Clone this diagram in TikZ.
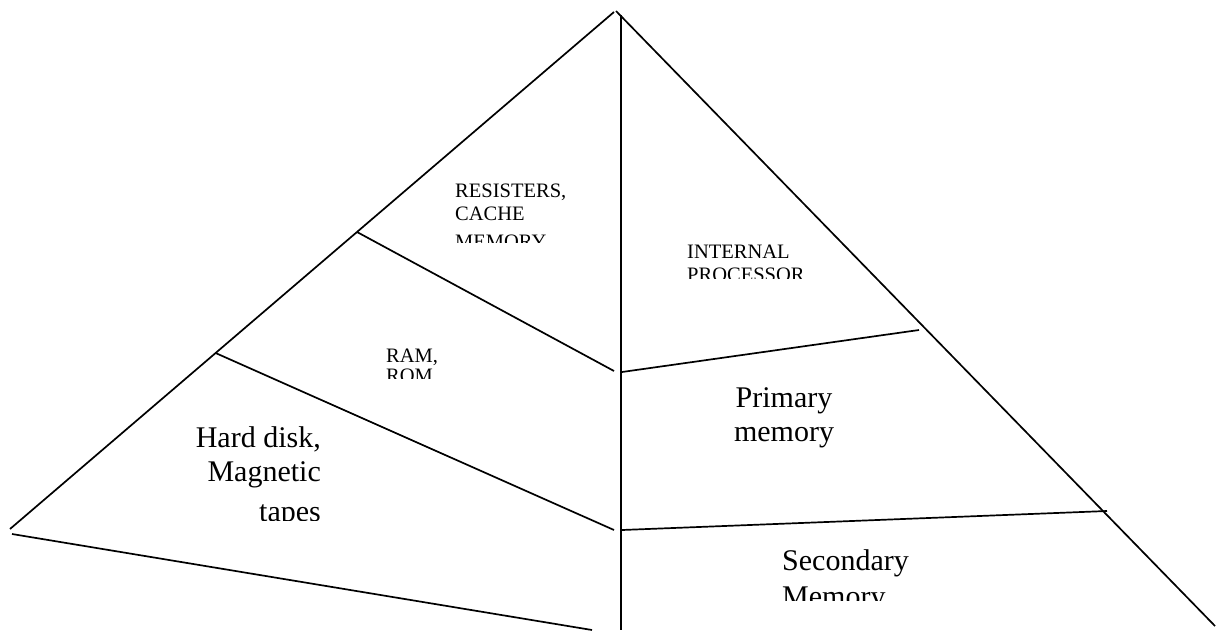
\documentclass[tikz,border=0pt]{standalone}
\usepackage{fontspec}
\setmainfont{Liberation Serif}
\usetikzlibrary{calc}
\begin{document}
\begin{tikzpicture}[x=1pt,y=-1pt,
  edge/.style={line width=1.7pt, black},
  small/.style={inner sep=0pt, font=\fontsize{20.5}{23}\selectfont},
  large/.style={inner sep=0pt, font=\fontsize{30}{34}\selectfont}]
\useasboundingbox (0,0) rectangle (1218,630);

% outline of the pyramid
\coordinate (apexL) at (614,12);
\coordinate (apexR) at (616,11);
\coordinate (baseL) at (10,529);
\coordinate (baseR) at (1215,626);
\coordinate (axisTop) at (621,15);
\coordinate (axisBot) at (621,630);
\coordinate (floorL) at (12,534);
\coordinate (floorR) at (592,630);
\draw[edge] (apexL) -- (baseL);
\draw[edge] (apexR) -- (baseR);
\draw[edge] (axisTop) -- (axisBot);
\draw[edge] (floorL) -- (floorR);

% level dividers, left half (starting on the left slope)
\coordinate (l1a) at ($(apexL)!0.4255!(baseL)$);
\coordinate (l1b) at (614,371);
\coordinate (l2a) at ($(apexL)!0.6596!(baseL)$);
\coordinate (l2b) at (614,530);
\draw[edge] (l1a) -- (l1b);
\draw[edge] (l2a) -- (l2b);

% level dividers, right half
\coordinate (r1a) at (622,372);
\coordinate (r1b) at (919,330);
\coordinate (r2a) at (622,530);
\coordinate (r2b) at (1107,511);
\draw[edge] (r1a) -- (r1b);
\draw[edge] (r2a) -- (r2b);

% labels (text boxes cut off at their lower edge);
% each node is placed by the baseline of its last line
\begin{scope}
  \clip (440,170) rectangle (600,242);
  \node[small, anchor=base west, align=left] (regs) at (455,248) {RESISTERS,\\CACHE\\[5pt]MEMORY};
\end{scope}
\begin{scope}
  \clip (670,230) rectangle (860,278);
  \node[small, anchor=base west, align=left] (proc) at (687,281) {INTERNAL\\PROCESSOR};
\end{scope}
\begin{scope}
  \clip (370,330) rectangle (470,378);
  \node[small, anchor=base west, align=left] (ram) at (386,382) {RAM,\\[-3pt]ROM};
\end{scope}
\begin{scope}
  \clip (150,400) rectangle (340,520);
  \node[large, anchor=base east, align=right] (disk) at (321,521.5) {Hard disk,\\Magnetic\\[6pt]tapes};
\end{scope}
\node[large, anchor=base, align=center] (prim) at (784,441.5) {Primary\\memory};
\begin{scope}
  \clip (760,530) rectangle (960,600);
  \node[large, anchor=base west, align=left] (sec) at (782,606) {Secondary\\[2pt]Memory};
\end{scope}
\end{tikzpicture}
\end{document}
